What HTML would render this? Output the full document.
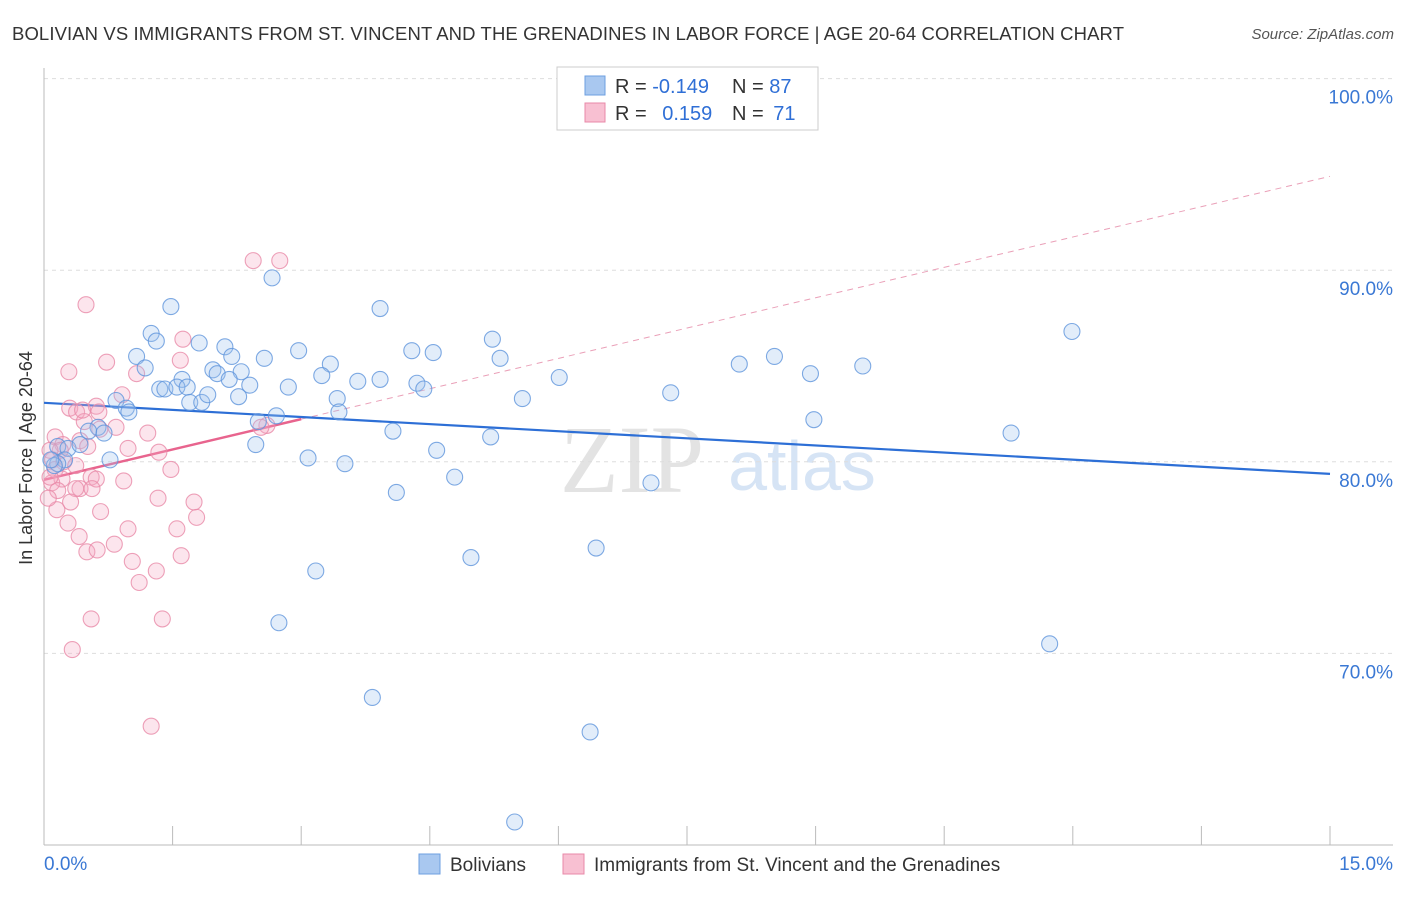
<!DOCTYPE html>
<html><head><meta charset="utf-8"><style>
body{margin:0;background:#fff;font-family:"Liberation Sans",sans-serif;}
svg text{font-family:"Liberation Sans",sans-serif;}
</style></head><body>
<svg width="1406" height="892" xmlns="http://www.w3.org/2000/svg">
<text x="12" y="40" font-size="18.5" fill="#333" textLength="1112">BOLIVIAN VS IMMIGRANTS FROM ST. VINCENT AND THE GRENADINES IN LABOR FORCE | AGE 20-64 CORRELATION CHART</text>
<text x="1394" y="39" font-size="15" fill="#555" font-style="italic" text-anchor="end">Source: ZipAtlas.com</text>
<g>
<text x="632" y="492" font-size="96" fill="#e3e3e3" text-anchor="middle" font-family="Liberation Serif" style="font-family:'Liberation Serif',serif">ZIP</text>
<text x="802" y="490" font-size="70" fill="#d6e4f5" text-anchor="middle">atlas</text>
</g>
<g id="grid"></g><g id="axes"></g><g id="trends"></g><g id="pts"></g>
<text x="32" y="458" font-size="18" fill="#333" text-anchor="middle" transform="rotate(-90 32 458)">In Labor Force | Age 20-64</text>
<g>
<rect x="557" y="67" width="261" height="63" fill="#fff" stroke="#ccc"/>
<rect x="585" y="76" width="20" height="19" fill="#a9c8f0" stroke="#6d9fe0"/>
<rect x="585" y="103" width="20" height="19" fill="#f8c0d2" stroke="#e889a8"/>
<text x="615" y="93" font-size="20" fill="#333">R = <tspan fill="#2f6fd6">-0.149</tspan></text>
<text x="732" y="93" font-size="20" fill="#333">N = <tspan fill="#2f6fd6">87</tspan></text>
<text x="615" y="120" font-size="20" fill="#333">R = <tspan fill="#2f6fd6" dx="10">0.159</tspan></text>
<text x="732" y="120" font-size="20" fill="#333">N = <tspan fill="#2f6fd6" dx="4">71</tspan></text>
</g>
<g>
<rect x="419" y="854" width="21" height="20" fill="#a9c8f0" stroke="#6d9fe0"/>
<text x="450" y="871" font-size="19" fill="#333">Bolivians</text>
<rect x="563" y="854" width="21" height="20" fill="#f8c0d2" stroke="#e889a8"/>
<text x="594" y="871" font-size="19" fill="#333">Immigrants from St. Vincent and the Grenadines</text>
</g>
</svg>
<script>
const blueX=[2.66,3.92,1.48,1.25,1.31,1.81,2.11,1.08,2.19,2.57,2.97,3.34,4.29,4.54,5.23,5.32,1.18,1.97,2.02,2.30,2.16,1.61,1.35,1.41,1.55,1.67,2.40,2.85,3.24,3.66,3.92,4.35,4.43,1.70,1.84,1.91,2.27,0.84,0.96,0.99,3.42,3.44,2.71,2.50,4.07,5.21,5.58,6.01,7.31,8.11,8.52,8.94,9.55,8.98,11.99,11.28,0.63,0.70,0.52,0.16,0.28,0.42,0.77,0.24,0.16,0.12,2.47,3.08,3.51,4.58,4.79,4.11,7.08,4.98,6.44,3.17,2.74,11.73,3.83,6.37,5.49,0.08];
const blueY=[89.6,88.0,88.1,86.7,86.3,86.2,86.0,85.5,85.5,85.4,85.8,85.1,85.8,85.7,86.4,85.4,84.9,84.8,84.6,84.7,84.3,84.3,83.8,83.8,83.9,83.9,84.0,83.9,84.5,84.2,84.3,84.1,83.8,83.1,83.1,83.5,83.4,83.2,82.8,82.6,83.3,82.6,82.4,82.1,81.6,81.3,83.3,84.4,83.6,85.1,85.5,84.6,85.0,82.2,86.8,81.5,81.8,81.5,81.6,80.8,80.7,80.9,80.1,80.1,79.9,79.8,80.9,80.2,79.9,80.6,79.2,78.4,78.9,75.0,75.5,74.3,71.6,70.5,67.7,65.9,61.2,80.1];
const pinkX=[2.44,2.75,0.49,1.62,0.73,1.59,0.29,1.08,0.91,0.61,0.30,0.38,0.64,0.47,0.45,0.84,0.65,1.21,0.13,0.42,0.22,0.19,0.98,1.34,0.51,0.07,0.10,0.23,0.37,0.13,0.55,0.93,0.61,0.21,0.09,0.42,0.56,0.37,0.16,1.48,1.33,1.75,1.78,0.31,0.66,0.15,0.28,0.98,1.55,0.41,0.82,0.50,0.62,1.60,1.03,1.31,1.11,0.55,1.38,0.33,1.25,2.60,2.53,0.07,0.05];
const pinkY=[90.5,90.5,88.2,86.4,85.2,85.3,84.7,84.6,83.5,82.9,82.8,82.6,82.6,82.1,82.7,81.8,81.7,81.5,81.3,81.1,80.9,80.6,80.7,80.5,80.8,80.6,80.1,80.0,79.8,79.6,79.2,79.0,79.1,79.1,78.9,78.6,78.6,78.6,78.5,79.6,78.1,77.9,77.1,77.9,77.4,77.5,76.8,76.5,76.5,76.1,75.7,75.3,75.4,75.1,74.8,74.3,73.7,71.8,71.8,70.2,66.2,81.9,81.8,79.2,78.1];
const blueTrend=[83.08,79.37];
const pinkTrend=[79.06,94.9];
const pinkSolidEnd=3.0;
const yTicks=[100,90,80,70];
const xTickVals=[0,1.5,3,4.5,6,7.5,9,10.5,12,13.5,15];
const NS="http://www.w3.org/2000/svg";
const sx=v=>44+v*(1330-44)/15;
const sy=v=>845-(v-60)*(845-78.6)/40;
function mk(tag,attrs,parent){const e=document.createElementNS(NS,tag);for(const k in attrs)e.setAttribute(k,attrs[k]);document.getElementById(parent).appendChild(e);return e;}
yTicks.forEach(t=>{
 const l=mk('line',{x1:44,x2:1393,y1:sy(t),y2:sy(t),stroke:'#ddd','stroke-dasharray':'4,4'},'grid');
 
 
 const tx=mk('text',{x:1393,y:sy(t)+25,'font-size':19,fill:'#3a78d4','text-anchor':'end'},'grid');
 tx.textContent=t.toFixed(1)+'%';
 
 
});
const ya=mk('line',{x1:44,x2:44,y1:68,y2:845,stroke:'#bbb'},'axes');


const xa=mk('line',{x1:44,x2:1393,y1:845,y2:845,stroke:'#bbb'},'axes');


xTickVals.forEach(v=>{
 const t=mk('line',{x1:sx(v),x2:sx(v),y1:826,y2:845,stroke:'#bbb'},'axes');
 
 
});
const xl0=mk('text',{x:44,y:870,'font-size':19,fill:'#3a78d4'},'axes');
xl0.textContent='0.0%';


const xl1=mk('text',{x:1393,y:870,'font-size':19,fill:'#3a78d4','text-anchor':'end'},'axes');
xl1.textContent='15.0%';


function drawPts(xs,ys,fill,stroke,name){
 xs.forEach((x,i)=>{
  const c=mk('circle',{cx:sx(x),cy:sy(ys[i]),r:8,fill:fill,'fill-opacity':0.3,stroke:stroke,'stroke-opacity':0.8,'stroke-width':1.1},'pts');
  
  
 });
}
drawPts(pinkX,pinkY,'#f5a9c2','#e889a8','immigrant-point');
drawPts(blueX,blueY,'#9fc2ee','#5f95dc','bolivian-point');
const pAt=x=>pinkTrend[0]+(pinkTrend[1]-pinkTrend[0])*x/15;
const pd=mk('line',{x1:sx(pinkSolidEnd),y1:sy(pAt(pinkSolidEnd)),x2:sx(15),y2:sy(pinkTrend[1]),stroke:'#eaa0b8','stroke-width':1,'stroke-dasharray':'6,5'},'trends');


const ps=mk('line',{x1:sx(0),y1:sy(pinkTrend[0]),x2:sx(pinkSolidEnd),y2:sy(pAt(pinkSolidEnd)),stroke:'#e8648e','stroke-width':2.5},'trends');


const bl=mk('line',{x1:sx(0),y1:sy(blueTrend[0]),x2:sx(15),y2:sy(blueTrend[1]),stroke:'#2d6fd6','stroke-width':2.2},'trends');


</script>
</body></html>
